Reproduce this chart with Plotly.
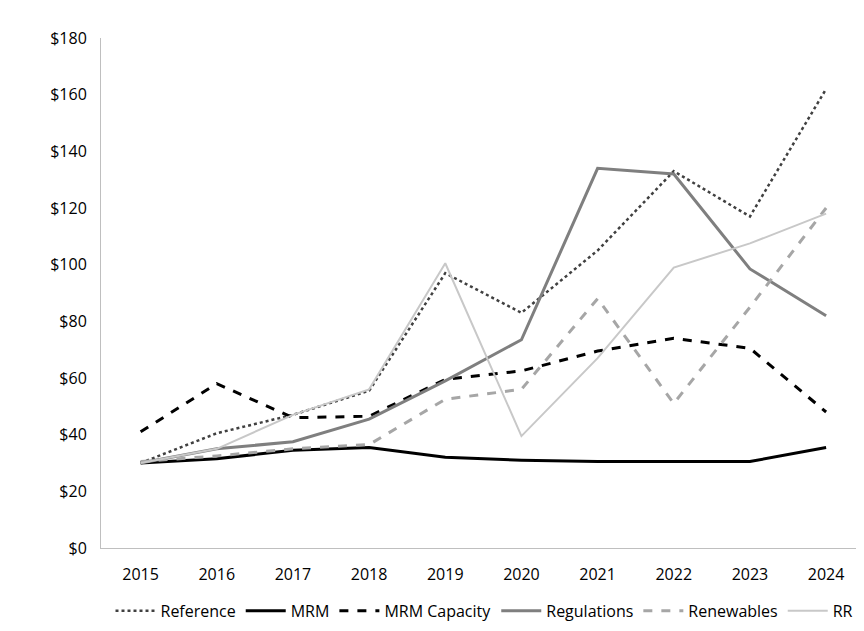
import plotly.graph_objects as go

years = [2015, 2016, 2017, 2018, 2019, 2020, 2021, 2022, 2023, 2024]
reference = [30, 40.5, 47, 55.5, 97, 83, 105, 133, 117, 162]
mrm = [30, 31.5, 34.5, 35.5, 32, 31, 30.5, 30.5, 30.5, 35.5]
mrm_capacity = [41, 58, 46, 46.5, 59.5, 62.5, 69.5, 74, 70.5, 48]
regulations = [30, 35, 37.5, 45.5, 59, 73.5, 134, 132, 98.5, 82]
renewables = [30.5, 32.5, 35, 36.5, 52.5, 56, 88, 51, 85, 120]
rr = [30, 35, 47, 56, 100.5, 39.5, 67, 99, 107.5, 118]

series = [
    ("Reference", reference, "#404040", "dot", 2.5),
    ("MRM", mrm, "#000000", "solid", 3),
    ("MRM Capacity", mrm_capacity, "#000000", "dash", 3),
    ("Regulations", regulations, "#7f7f7f", "solid", 3),
    ("Renewables", renewables, "#a6a6a6", "dash", 3),
    ("RR", rr, "#c8c8c8", "solid", 2),
]

fig = go.Figure()
for name, vals, color, dash, w in series:
    fig.add_trace(go.Scatter(x=[str(y) for y in years], y=vals, name=name, mode="lines",
                             line=dict(color=color, dash=dash, width=w)))

fig.update_layout(
    width=864, height=631, plot_bgcolor="white", paper_bgcolor="white",
    margin=dict(l=93, r=4, t=30, b=91),
    font=dict(family="Open Sans, Liberation Sans", size=16, color="#000"),
    legend=dict(orientation="h", x=0.5, xanchor="center", y=-0.09, yanchor="top",
                font=dict(size=16), itemwidth=40, tracegroupgap=0),
    xaxis=dict(type="category", range=[-0.52, 9.55], showline=True, linecolor="#bfbfbf",
               linewidth=1, showgrid=False, ticks="", ticklabelstandoff=12),
    yaxis=dict(range=[0, 180], dtick=20, tickprefix="$", showgrid=False,
               showline=True, linecolor="#bfbfbf", zeroline=False, ticks="",
               ticklabelstandoff=10),
)
fig.write_html("out.html")
